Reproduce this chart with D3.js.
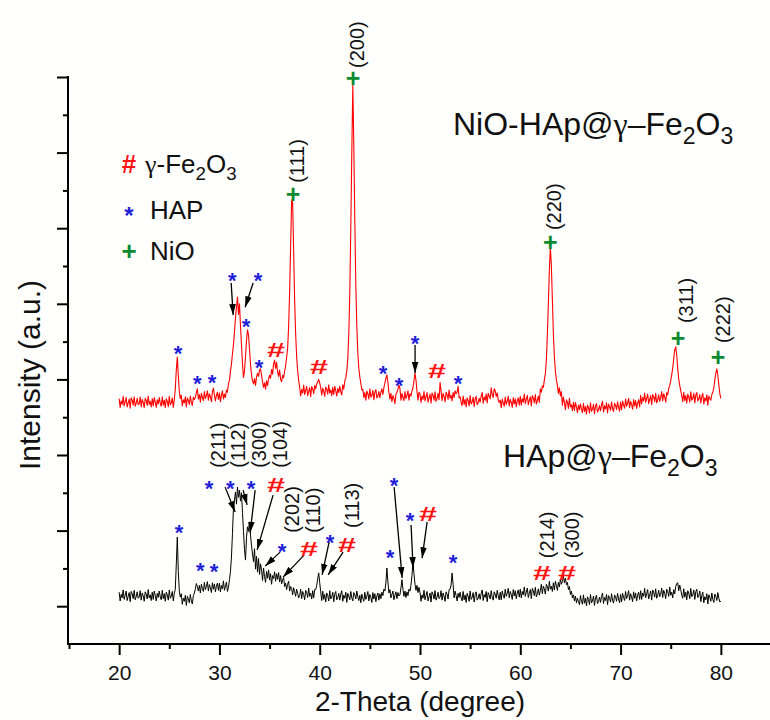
<!DOCTYPE html>
<html><head><meta charset="utf-8">
<script src="https://cdn.jsdelivr.net/npm/d3@7"></script>
<style>
html,body{margin:0;padding:0;background:#fff}
svg{display:block}
text{font-family:"Liberation Sans",Arial,Helvetica,sans-serif}
</style>
</head><body>
<svg id="chart" width="770" height="720"></svg>
<script>
// ---------- DATA ----------
const angles = [
20,20.1,20.2,20.3,20.4,20.5,20.6,20.7,20.8,20.9,21,21.1,21.2,21.3,21.4,21.5,21.6,21.7,21.8,21.9,
22,22.1,22.2,22.3,22.4,22.5,22.6,22.7,22.8,22.9,23,23.1,23.2,23.3,23.4,23.5,23.6,23.7,23.8,23.9,
24,24.1,24.2,24.3,24.4,24.5,24.6,24.7,24.8,24.9,25,25.1,25.2,25.3,25.4,25.5,25.6,25.7,25.8,25.9,
26,26.1,26.2,26.3,26.4,26.5,26.6,26.7,26.8,26.9,27,27.1,27.2,27.3,27.4,27.5,27.6,27.7,27.8,27.9,
28,28.1,28.2,28.3,28.4,28.5,28.6,28.7,28.8,28.9,29,29.1,29.2,29.3,29.4,29.5,29.6,29.7,29.8,29.9,
30,30.1,30.2,30.3,30.4,30.5,30.6,30.7,30.8,30.9,31,31.1,31.2,31.3,31.4,31.5,31.6,31.7,31.8,31.9,
32,32.1,32.2,32.3,32.4,32.5,32.6,32.7,32.8,32.9,33,33.1,33.2,33.3,33.4,33.5,33.6,33.7,33.8,33.9,
34,34.1,34.2,34.3,34.4,34.5,34.6,34.7,34.8,34.9,35,35.1,35.2,35.3,35.4,35.5,35.6,35.7,35.8,35.9,
36,36.1,36.2,36.3,36.4,36.5,36.6,36.7,36.8,36.9,37,37.1,37.2,37.3,37.4,37.5,37.6,37.7,37.8,37.9,
38,38.1,38.2,38.3,38.4,38.5,38.6,38.7,38.8,38.9,39,39.1,39.2,39.3,39.4,39.5,39.6,39.7,39.8,39.9,
40,40.1,40.2,40.3,40.4,40.5,40.6,40.7,40.8,40.9,41,41.1,41.2,41.3,41.4,41.5,41.6,41.7,41.8,41.9,
42,42.1,42.2,42.3,42.4,42.5,42.6,42.7,42.8,42.9,43,43.1,43.2,43.3,43.4,43.5,43.6,43.7,43.8,43.9,
44,44.1,44.2,44.3,44.4,44.5,44.6,44.7,44.8,44.9,45,45.1,45.2,45.3,45.4,45.5,45.6,45.7,45.8,45.9,
46,46.1,46.2,46.3,46.4,46.5,46.6,46.7,46.8,46.9,47,47.1,47.2,47.3,47.4,47.5,47.6,47.7,47.8,47.9,
48,48.1,48.2,48.3,48.4,48.5,48.6,48.7,48.8,48.9,49,49.1,49.2,49.3,49.4,49.5,49.6,49.7,49.8,49.9,
50,50.1,50.2,50.3,50.4,50.5,50.6,50.7,50.8,50.9,51,51.1,51.2,51.3,51.4,51.5,51.6,51.7,51.8,51.9,
52,52.1,52.2,52.3,52.4,52.5,52.6,52.7,52.8,52.9,53,53.1,53.2,53.3,53.4,53.5,53.6,53.7,53.8,53.9,
54,54.1,54.2,54.3,54.4,54.5,54.6,54.7,54.8,54.9,55,55.1,55.2,55.3,55.4,55.5,55.6,55.7,55.8,55.9,
56,56.1,56.2,56.3,56.4,56.5,56.6,56.7,56.8,56.9,57,57.1,57.2,57.3,57.4,57.5,57.6,57.7,57.8,57.9,
58,58.1,58.2,58.3,58.4,58.5,58.6,58.7,58.8,58.9,59,59.1,59.2,59.3,59.4,59.5,59.6,59.7,59.8,59.9,
60,60.1,60.2,60.3,60.4,60.5,60.6,60.7,60.8,60.9,61,61.1,61.2,61.3,61.4,61.5,61.6,61.7,61.8,61.9,
62,62.1,62.2,62.3,62.4,62.5,62.6,62.7,62.8,62.9,63,63.1,63.2,63.3,63.4,63.5,63.6,63.7,63.8,63.9,
64,64.1,64.2,64.3,64.4,64.5,64.6,64.7,64.8,64.9,65,65.1,65.2,65.3,65.4,65.5,65.6,65.7,65.8,65.9,
66,66.1,66.2,66.3,66.4,66.5,66.6,66.7,66.8,66.9,67,67.1,67.2,67.3,67.4,67.5,67.6,67.7,67.8,67.9,
68,68.1,68.2,68.3,68.4,68.5,68.6,68.7,68.8,68.9,69,69.1,69.2,69.3,69.4,69.5,69.6,69.7,69.8,69.9,
70,70.1,70.2,70.3,70.4,70.5,70.6,70.7,70.8,70.9,71,71.1,71.2,71.3,71.4,71.5,71.6,71.7,71.8,71.9,
72,72.1,72.2,72.3,72.4,72.5,72.6,72.7,72.8,72.9,73,73.1,73.2,73.3,73.4,73.5,73.6,73.7,73.8,73.9,
74,74.1,74.2,74.3,74.4,74.5,74.6,74.7,74.8,74.9,75,75.1,75.2,75.3,75.4,75.5,75.6,75.7,75.8,75.9,
76,76.1,76.2,76.3,76.4,76.5,76.6,76.7,76.8,76.9,77,77.1,77.2,77.3,77.4,77.5,77.6,77.7,77.8,77.9,
78,78.1,78.2,78.3,78.4,78.5,78.6,78.7,78.8,78.9,79,79.1,79.2,79.3,79.4,79.5,79.6,79.7,79.8,79.9,
80];

// NiO-HAp@γ-Fe2O3 (red trace)
const intensityNiOHAp = [
549,526,543,534,555,530,541,552,527,538,548,524,551,545,532,554,529,537,550,533,
536,553,528,547,539,525,550,544,531,556,534,542,527,549,530,552,540,526,546,535,
552,537,529,554,532,545,525,549,542,528,555,533,538,551,526,546,575,625,659,610,
568,549,558,530,546,538,554,527,551,544,534,556,539,531,553,547,552,565,575,548,
560,540,563,552,544,568,549,557,570,545,562,554,541,567,577,559,543,558,566,547,
564,541,558,570,548,561,552,572,566,588,598,622,641,668,692,725,762,792,818,772,
800,742,690,640,605,622,662,702,731,718,680,640,612,596,588,602,584,606,616,608,
625,628,610,594,579,591,574,596,584,601,611,603,626,614,641,651,629,645,619,608,
625,600,594,611,604,621,636,658,682,740,830,950,1075,1068,940,810,720,660,622,598,
579,556,573,564,585,560,571,582,557,568,578,554,581,575,562,584,575,588,593,600,
590,578,558,577,569,555,580,574,561,586,564,572,557,579,560,582,570,556,576,565,
582,567,559,586,574,596,604,622,655,720,830,1000,1200,1379,1220,1020,850,740,670,630,
606,590,572,574,552,565,545,569,562,548,575,553,558,571,546,566,573,551,556,568,
552,566,575,560,578,590,603,612,592,566,548,563,541,557,550,536,560,566,574,585,
576,545,563,552,544,568,549,557,570,545,562,556,570,578,597,617,598,568,545,566,
562,539,556,547,568,543,554,565,540,551,561,537,564,558,545,567,542,550,563,546,
592,569,544,563,555,541,566,560,547,572,550,558,543,565,552,570,562,566,582,551,
554,539,531,556,534,547,527,551,544,530,557,535,540,553,528,548,555,533,538,550,
540,556,565,537,553,545,561,538,563,556,549,578,560,552,575,570,555,564,546,539,
545,525,548,537,529,553,534,542,555,530,547,539,526,552,535,549,528,543,551,532,
555,532,549,540,561,536,547,558,533,544,554,530,557,551,538,560,535,543,556,539,
575,566,583,579,598,615,650,720,800,890,950,900,810,720,660,622,598,585,563,578,
556,568,532,553,539,520,546,540,523,550,527,533,517,540,518,539,527,512,532,520,
535,520,512,537,515,528,508,532,525,511,538,516,521,534,509,529,536,514,519,531,
517,533,542,514,530,522,538,511,535,528,518,540,523,515,537,531,520,541,526,516,
540,520,543,532,524,548,529,537,550,525,542,534,521,547,530,544,523,538,546,527,
558,535,552,543,564,539,550,561,536,547,557,533,560,554,541,563,538,546,559,542,
551,568,543,562,554,540,565,559,576,584,596,612,630,655,678,686,664,628,600,584,
570,558,541,566,544,557,537,561,554,540,567,545,550,563,538,558,565,543,548,560,
538,554,563,535,551,543,559,532,556,549,545,560,566,578,598,617,628,611,586,562,
550];

// HAp@γ-Fe2O3 (black trace)
const intensityHApFe = [
37,14,31,22,43,18,29,40,15,26,36,12,39,33,20,42,17,25,38,21,
24,41,16,35,27,13,38,32,19,44,22,30,15,37,18,40,28,14,34,23,
40,25,17,42,20,33,13,37,30,16,43,21,26,39,14,34,45,112,183,92,
40,24,33,5,21,13,29,2,26,19,9,31,14,6,28,35,46,60,52,40,
55,35,58,47,39,63,44,52,65,40,57,49,36,62,45,59,38,53,61,42,
61,38,55,46,67,42,53,64,39,50,70,92,130,192,262,281,302,270,315,288,
307,278,300,248,198,150,122,182,210,198,223,188,160,138,118,152,98,132,90,126,
84,112,95,68,101,78,63,92,74,96,69,86,58,81,73,91,66,86,71,89,
64,81,59,70,76,52,61,44,58,66,40,52,47,30,49,38,26,45,34,22,
28,45,20,39,31,17,42,36,23,48,26,34,19,41,22,44,44,55,72,88,
62,38,15,40,18,31,11,35,28,14,41,19,24,37,12,32,39,17,22,34,
16,32,41,13,29,21,37,10,34,27,17,39,22,14,36,30,19,40,25,15,
29,9,32,21,13,37,18,26,39,14,31,23,10,36,19,33,12,27,35,16,
33,20,37,28,45,40,62,101,64,35,44,22,31,40,17,29,38,20,36,27,
30,48,70,45,26,40,23,38,28,45,40,55,82,114,86,58,42,55,36,50,
36,13,30,21,42,17,28,39,14,25,35,11,38,32,19,41,16,24,37,20,
24,41,16,35,27,13,38,32,19,44,45,56,88,58,22,40,28,14,34,23,
37,22,14,39,17,30,10,34,27,13,40,18,23,36,11,31,38,16,21,33,
18,34,43,15,31,23,39,12,36,29,19,41,24,16,38,32,21,42,27,17,
37,17,40,29,21,45,26,34,47,22,39,31,18,44,27,41,20,35,43,24,
45,22,39,30,51,26,37,48,23,34,44,20,47,41,28,50,25,33,46,29,
41,58,33,53,46,32,58,52,40,66,45,53,39,62,43,66,55,42,63,51,
72,58,66,80,62,74,57,63,44,52,31,40,22,30,14,27,9,21,12,4,
28,13,5,30,8,21,1,25,18,4,31,9,14,27,2,22,29,7,12,24,
10,26,35,7,23,15,31,4,28,21,11,33,16,8,30,24,13,34,19,9,
31,11,34,23,15,39,20,28,41,16,33,25,12,38,21,35,14,29,37,18,
41,18,35,26,47,22,33,44,19,30,40,16,43,37,24,46,21,29,42,25,
31,48,23,42,34,20,45,39,26,51,29,37,22,44,33,52,60,62,41,56,
44,29,21,46,24,37,17,41,34,20,47,25,30,43,18,38,45,23,28,40,
12,28,37,9,25,17,33,6,30,23,13,35,18,10,32,26,15,36,21,11,
14];

const xTickValues = [20,30,40,50,60,70,80];
const xMinorTickValues = [15,25,35,45,55,65,75,85];
const yTickValues = [0,200,400,600,800,1000,1200,1400];
const yMinorTickValues = [100,300,500,700,900,1100,1300];

// phase markers: [2θ, intensity]
const hapMarksTop   = [[25.88,683],[27.78,604],[29.27,606],[31.27,876],[33.86,876],[32.66,754],[33.96,646],[46.32,630],[47.92,598],[49.51,709],[53.8,604]];
const feMarksTop    = [[35.65,680],[39.94,633],[51.7,622]];
const nioMarksTop   = [[37.35,1088],[43.33,1395],[63.0,961],[75.73,709],[79.72,657]];
const arrowsTop     = [[31.17,855,31.37,770],[33.36,855,32.56,791],[49.51,691,49.51,617]];
const hklTop        = [["(200)",43.73,1424],["(111)",37.75,1120],["(220)",63.37,995],["(311)",76.53,749],["(222)",80.22,696]];

const hapMarksBottom = [[25.98,209],[28.08,109],[29.47,106],[28.97,326],[31.07,326],[33.16,326],[36.25,159],[41.04,183],[47.02,143],[47.42,334],[49.01,241],[53.3,130]];
const feMarksBottom  = [[35.65,321],[38.94,151],[42.73,162],[50.81,244],[62.17,88],[64.67,88]];
const arrowsBottom   = [[30.57,315,31.57,249],[32.36,307,32.76,268],[33.56,307,33.06,194],[35.35,294,33.76,149],[36.05,143,34.56,106],[38.44,135,36.35,77],[40.94,170,40.24,83],[42.33,143,40.84,83],[47.42,315,48.22,75],[49.11,215,49.31,101],[50.71,223,50.21,127]];
const hklBottom      = [["(211)",29.87,366],["(112)",31.86,366],["(300)",33.96,366],["(104)",36.05,366],["(202)",37.25,194],["(110)",39.34,194],["(113)",43.23,207],["(214)",62.67,127],["(300)",65.16,127]];

const legendSymbols = ["#","*","+"];
const legendNames = [[["γ","g"],["-Fe",""],["2","s"],["O",""],["3","s"]],[["HAP",""]],[["NiO",""]]];
const sampleNames = [
  [["NiO-HAp@",""],["γ","g"],["–Fe",""],["2","s"],["O",""],["3","s"]],
  [["HAp@",""],["γ","g"],["–Fe",""],["2","s"],["O",""],["3","s"]]
];
const xTitle = "2-Theta (degree)";
const yTitle = "Intensity (a.u.)";

// ---------- DRAW ----------
const RED = "#ff0000", BLUE = "#1f1fd8", GREEN = "#0d8a2e", HASHRED = "#ff1414";
const svg = d3.select("#chart");
svg.append("rect").attr("width",770).attr("height",720).attr("fill","#fffffd");

const x = d3.scaleLinear().domain([15,85]).range([69,771]);
const y = d3.scaleLinear().domain([-100,1400]).range([644,77]);

// axes
const gx = svg.append("g").attr("transform","translate(0,644)");
gx.call(d3.axisBottom(x).tickValues(xTickValues).tickSize(11).tickSizeOuter(0).tickPadding(10));
gx.append("g").call(d3.axisBottom(x).tickValues(xMinorTickValues).tickSize(5).tickSizeOuter(0).tickFormat(""))
  .select(".domain").remove();
gx.select(".domain").attr("d","M67,0H770").attr("stroke-width",2);
gx.selectAll(".tick line").attr("stroke-width",2);
gx.selectAll(".tick text").attr("font-size",21).attr("font-family","Liberation Sans, Arial, sans-serif").attr("fill","#111");

const gy = svg.append("g").attr("transform","translate(68,0)");
gy.call(d3.axisLeft(y).tickValues(yTickValues).tickSize(11).tickSizeOuter(0).tickFormat(""));
gy.append("g").call(d3.axisLeft(y).tickValues(yMinorTickValues).tickSize(5).tickSizeOuter(0).tickFormat(""))
  .select(".domain").remove();
gy.select(".domain").attr("d","M0,76V645").attr("stroke-width",2);
gy.selectAll(".tick line").attr("stroke-width",2);

svg.append("text").attr("x",x(50)).attr("y",711).attr("text-anchor","middle")
  .attr("font-size",28).attr("fill","#111").text(xTitle);
svg.append("text").attr("transform","translate(40,375) rotate(-90)").attr("text-anchor","middle")
  .attr("font-size",30).attr("fill","#111").text(yTitle);

// traces
const line = d3.line().x(d=>x(d[0])).y(d=>y(d[1]));
svg.append("path").datum(d3.zip(angles,intensityHApFe)).attr("d",line)
  .attr("fill","none").attr("stroke","#000").attr("stroke-width",1).attr("stroke-linejoin","round");
svg.append("path").datum(d3.zip(angles,intensityNiOHAp)).attr("d",line)
  .attr("fill","none").attr("stroke",RED).attr("stroke-width",1.1).attr("stroke-linejoin","round");

// arrow marker
svg.append("defs").append("marker").attr("id","ah").attr("viewBox","0 0 10 6")
  .attr("refX",10).attr("refY",3).attr("markerUnits","userSpaceOnUse")
  .attr("markerWidth",11).attr("markerHeight",7).attr("orient","auto")
  .append("path").attr("d","M0,0L10,3L0,6Z").attr("fill","#000");

function drawArrows(arr){
  svg.append("g").selectAll("line").data(arr).join("line")
    .attr("x1",d=>x(d[0])).attr("y1",d=>y(d[1])).attr("x2",d=>x(d[2])).attr("y2",d=>y(d[3]))
    .attr("stroke","#000").attr("stroke-width",1.3).attr("marker-end","url(#ah)");
}
function drawStars(arr){
  svg.append("g").selectAll("text").data(arr).join("text")
    .attr("x",d=>x(d[0])).attr("y",d=>y(d[1])).attr("dy","0.58em").attr("text-anchor","middle")
    .attr("font-size",22).attr("font-weight","bold").attr("fill",BLUE).text("*");
}
function drawHashes(arr){
  svg.append("g").selectAll("text").data(arr).join("text")
    .attr("transform",d=>`translate(${x(d[0])},${y(d[1])}) scale(1.35,0.85)`)
    .attr("dy","0.36em").attr("text-anchor","middle")
    .attr("font-size",24).attr("font-weight","bold").attr("fill",HASHRED).text("#");
}
function drawPluses(arr){
  svg.append("g").selectAll("text").data(arr).join("text")
    .attr("x",d=>x(d[0])).attr("y",d=>y(d[1])).attr("dy","0.34em").attr("text-anchor","middle")
    .attr("font-size",25).attr("font-weight","bold").attr("fill",GREEN).text("+");
}
function drawHkl(arr){
  svg.append("g").selectAll("text").data(arr).join("text")
    .attr("transform",d=>`translate(${x(d[1])},${y(d[2])}) rotate(-90)`)
    .attr("dy","0.36em").attr("text-anchor","start")
    .attr("font-size",20).attr("fill","#111").text(d=>d[0]);
}
function chem(sel, parts, fs){
  let shift = 0;
  parts.forEach(p=>{
    const t = sel.append("tspan").text(p[0]);
    if(p[1]==="s"){ t.attr("font-size",fs*0.72).attr("dy",fs*0.28-shift); shift = fs*0.28; }
    else { if(shift){ t.attr("dy",-shift); shift=0; }
      if(p[1]==="g") t.attr("font-family","Liberation Serif, DejaVu Serif, serif"); }
  });
}

drawArrows(arrowsTop); drawArrows(arrowsBottom);
drawStars(hapMarksTop); drawStars(hapMarksBottom);
drawHashes(feMarksTop); drawHashes(feMarksBottom);
drawPluses(nioMarksTop);
drawHkl(hklTop); drawHkl(hklBottom);

// sample names
const t1 = svg.append("text").attr("x",453).attr("y",135).attr("font-size",32).attr("fill","#111");
chem(t1, sampleNames[0], 32);
const t2 = svg.append("text").attr("x",503).attr("y",467).attr("font-size",32).attr("fill","#111");
chem(t2, sampleNames[1], 32);

// legend
const legY = [164,210,251];
const legColors = [HASHRED,BLUE,GREEN];
legendSymbols.forEach((s,i)=>{
  const tx = svg.append("text").attr("x",129).attr("y",legY[i]).attr("text-anchor","middle")
    .attr("font-size", i===1?24:26).attr("font-weight","bold").attr("fill",legColors[i]).text(s);
  tx.attr("dy", i===0?"0.36em":(i===1?"0.58em":"0.34em"));
  const lt = svg.append("text").attr("x", i===0?145:150).attr("y",legY[i]+9).attr("font-size",26).attr("fill","#111");
  chem(lt, legendNames[i], 26);
});
</script>
</body></html>
